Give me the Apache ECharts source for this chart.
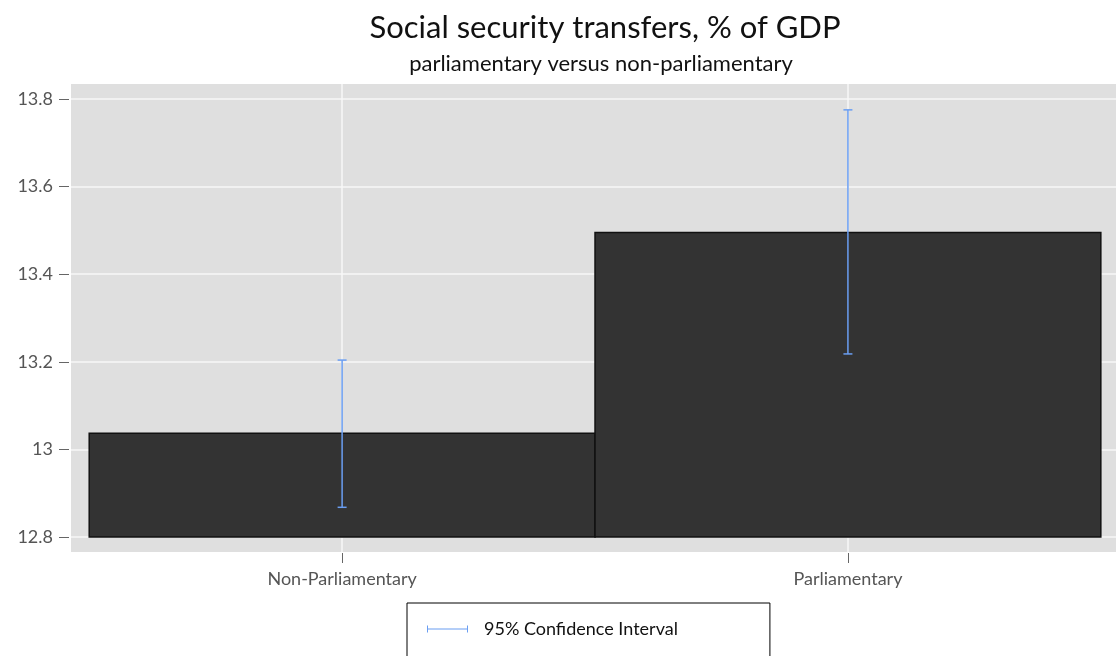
<!DOCTYPE html>
<html>
<head>
<meta charset="utf-8">
<script src="https://cdn.jsdelivr.net/npm/echarts@6/dist/echarts.min.js"></script>
<style>
    html, body { margin: 0; padding: 0; background: #fff; }
    #chart { width: 1116px; height: 656px; }
</style>
</head>
<body>
<div id="chart"></div>
<script>
    // data
    const categories = ['Non-Parliamentary', 'Parliamentary']
    const catPos = [1, 2]
    const means = [13.037, 13.495]
    const ciLow = [12.868, 13.218]
    const ciHigh = [13.204, 13.775]
    const yTicks = [12.8, 13, 13.2, 13.4, 13.6, 13.8]
    const baseline = 12.8

    const font = 'Lato'
    const ciColor = '#6a9ef2'

    let barData = catPos.map((x, i) => [x, means[i]])
    let ciData = catPos.map((x, i) => [x, ciLow[i], ciHigh[i]])

    let myChart = echarts.init(document.getElementById('chart'))
    let option = {
        animation: false,
        title: [
            {
                text: 'Social security transfers, % of GDP',
                left: 605,
                top: 12,
                padding: 0,
                textAlign: 'center',
                textStyle: { fontFamily: font, fontSize: 31, fontWeight: 'normal', color: '#111' }
            },
            {
                text: 'parliamentary versus non-parliamentary',
                left: 601,
                top: 53,
                padding: 0,
                textAlign: 'center',
                textStyle: { fontFamily: font, fontSize: 22, fontWeight: 'normal', color: '#111' }
            }
        ],
        grid: {
            left: 71,
            right: 0,
            top: 84,
            bottom: 104,
            show: true,
            backgroundColor: '#dfdfdf',
            borderWidth: 0
        },
        legend: {
            data: ['95% Confidence Interval'],
            left: 407,
            top: 603,
            padding: [17, 92, 30, 20],
            borderColor: '#000',
            borderWidth: 1,
            backgroundColor: '#fff',
            itemWidth: 41,
            itemHeight: 7,
            icon: 'path://M0,0H1V7H0Z M0,3H41V4H0Z M40,0H41V7H40Z',
            textStyle: { fontFamily: font, fontSize: 18, color: '#111', padding: [0, 0, 0, 11] }
        },
        xAxis: {
            type: 'value',
            min: 0.464,
            max: 2.53,
            offset: 1,
            axisLine: { show: false },
            axisTick: { length: 10, lineStyle: { color: '#666' }, customValues: catPos },
            axisLabel: {
                customValues: catPos,
                margin: 17,
                fontFamily: font,
                fontSize: 18,
                color: '#555',
                formatter: function (value) {
                    let i = catPos.indexOf(value)
                    return i >= 0 ? categories[i] : ''
                }
            },
            splitLine: { show: true, lineStyle: { color: '#f7f7f7', width: 1.5 } }
        },
        yAxis: {
            type: 'value',
            min: 12.766,
            max: 13.834,
            offset: 2,
            axisLine: { show: false },
            axisTick: { show: true, length: 10, lineStyle: { color: '#666' }, customValues: yTicks },
            axisLabel: {
                customValues: yTicks,
                margin: 16,
                fontFamily: font,
                fontSize: 18,
                color: '#555'
            },
            splitLine: { show: true, lineStyle: { color: '#f7f7f7', width: 1.5 } }
        },
        series: [
            {
                name: 'mean',
                type: 'custom',
                encode: { x: 0, y: 1 },
                data: barData,
                renderItem: function (params, api) {
                    let x = api.value(0)
                    let v = api.value(1)
                    let p0 = api.coord([x - 0.5, v])
                    let p1 = api.coord([x + 0.5, baseline])
                    return {
                        type: 'rect',
                        shape: { x: p0[0], y: p0[1], width: p1[0] - p0[0], height: p1[1] - p0[1] },
                        style: { fill: '#333333', stroke: '#111', lineWidth: 1.5 }
                    }
                }
            },
            {
                name: '95% Confidence Interval',
                type: 'custom',
                encode: { x: 0, y: [1, 2] },
                itemStyle: { color: ciColor },
                data: ciData,
                z: 3,
                renderItem: function (params, api) {
                    let x = api.value(0)
                    let lo = api.coord([x, api.value(1)])
                    let hi = api.coord([x, api.value(2)])
                    let style = { stroke: ciColor, lineWidth: 1.5 }
                    return {
                        type: 'group',
                        children: [
                            { type: 'line', shape: { x1: lo[0], y1: lo[1], x2: hi[0], y2: hi[1] }, style: style },
                            { type: 'line', shape: { x1: lo[0] - 4.5, y1: lo[1], x2: lo[0] + 4.5, y2: lo[1] }, style: style },
                            { type: 'line', shape: { x1: hi[0] - 4.5, y1: hi[1], x2: hi[0] + 4.5, y2: hi[1] }, style: style }
                        ]
                    }
                }
            }
        ]
    }
    myChart.setOption(option)
</script>
</body>
</html>
